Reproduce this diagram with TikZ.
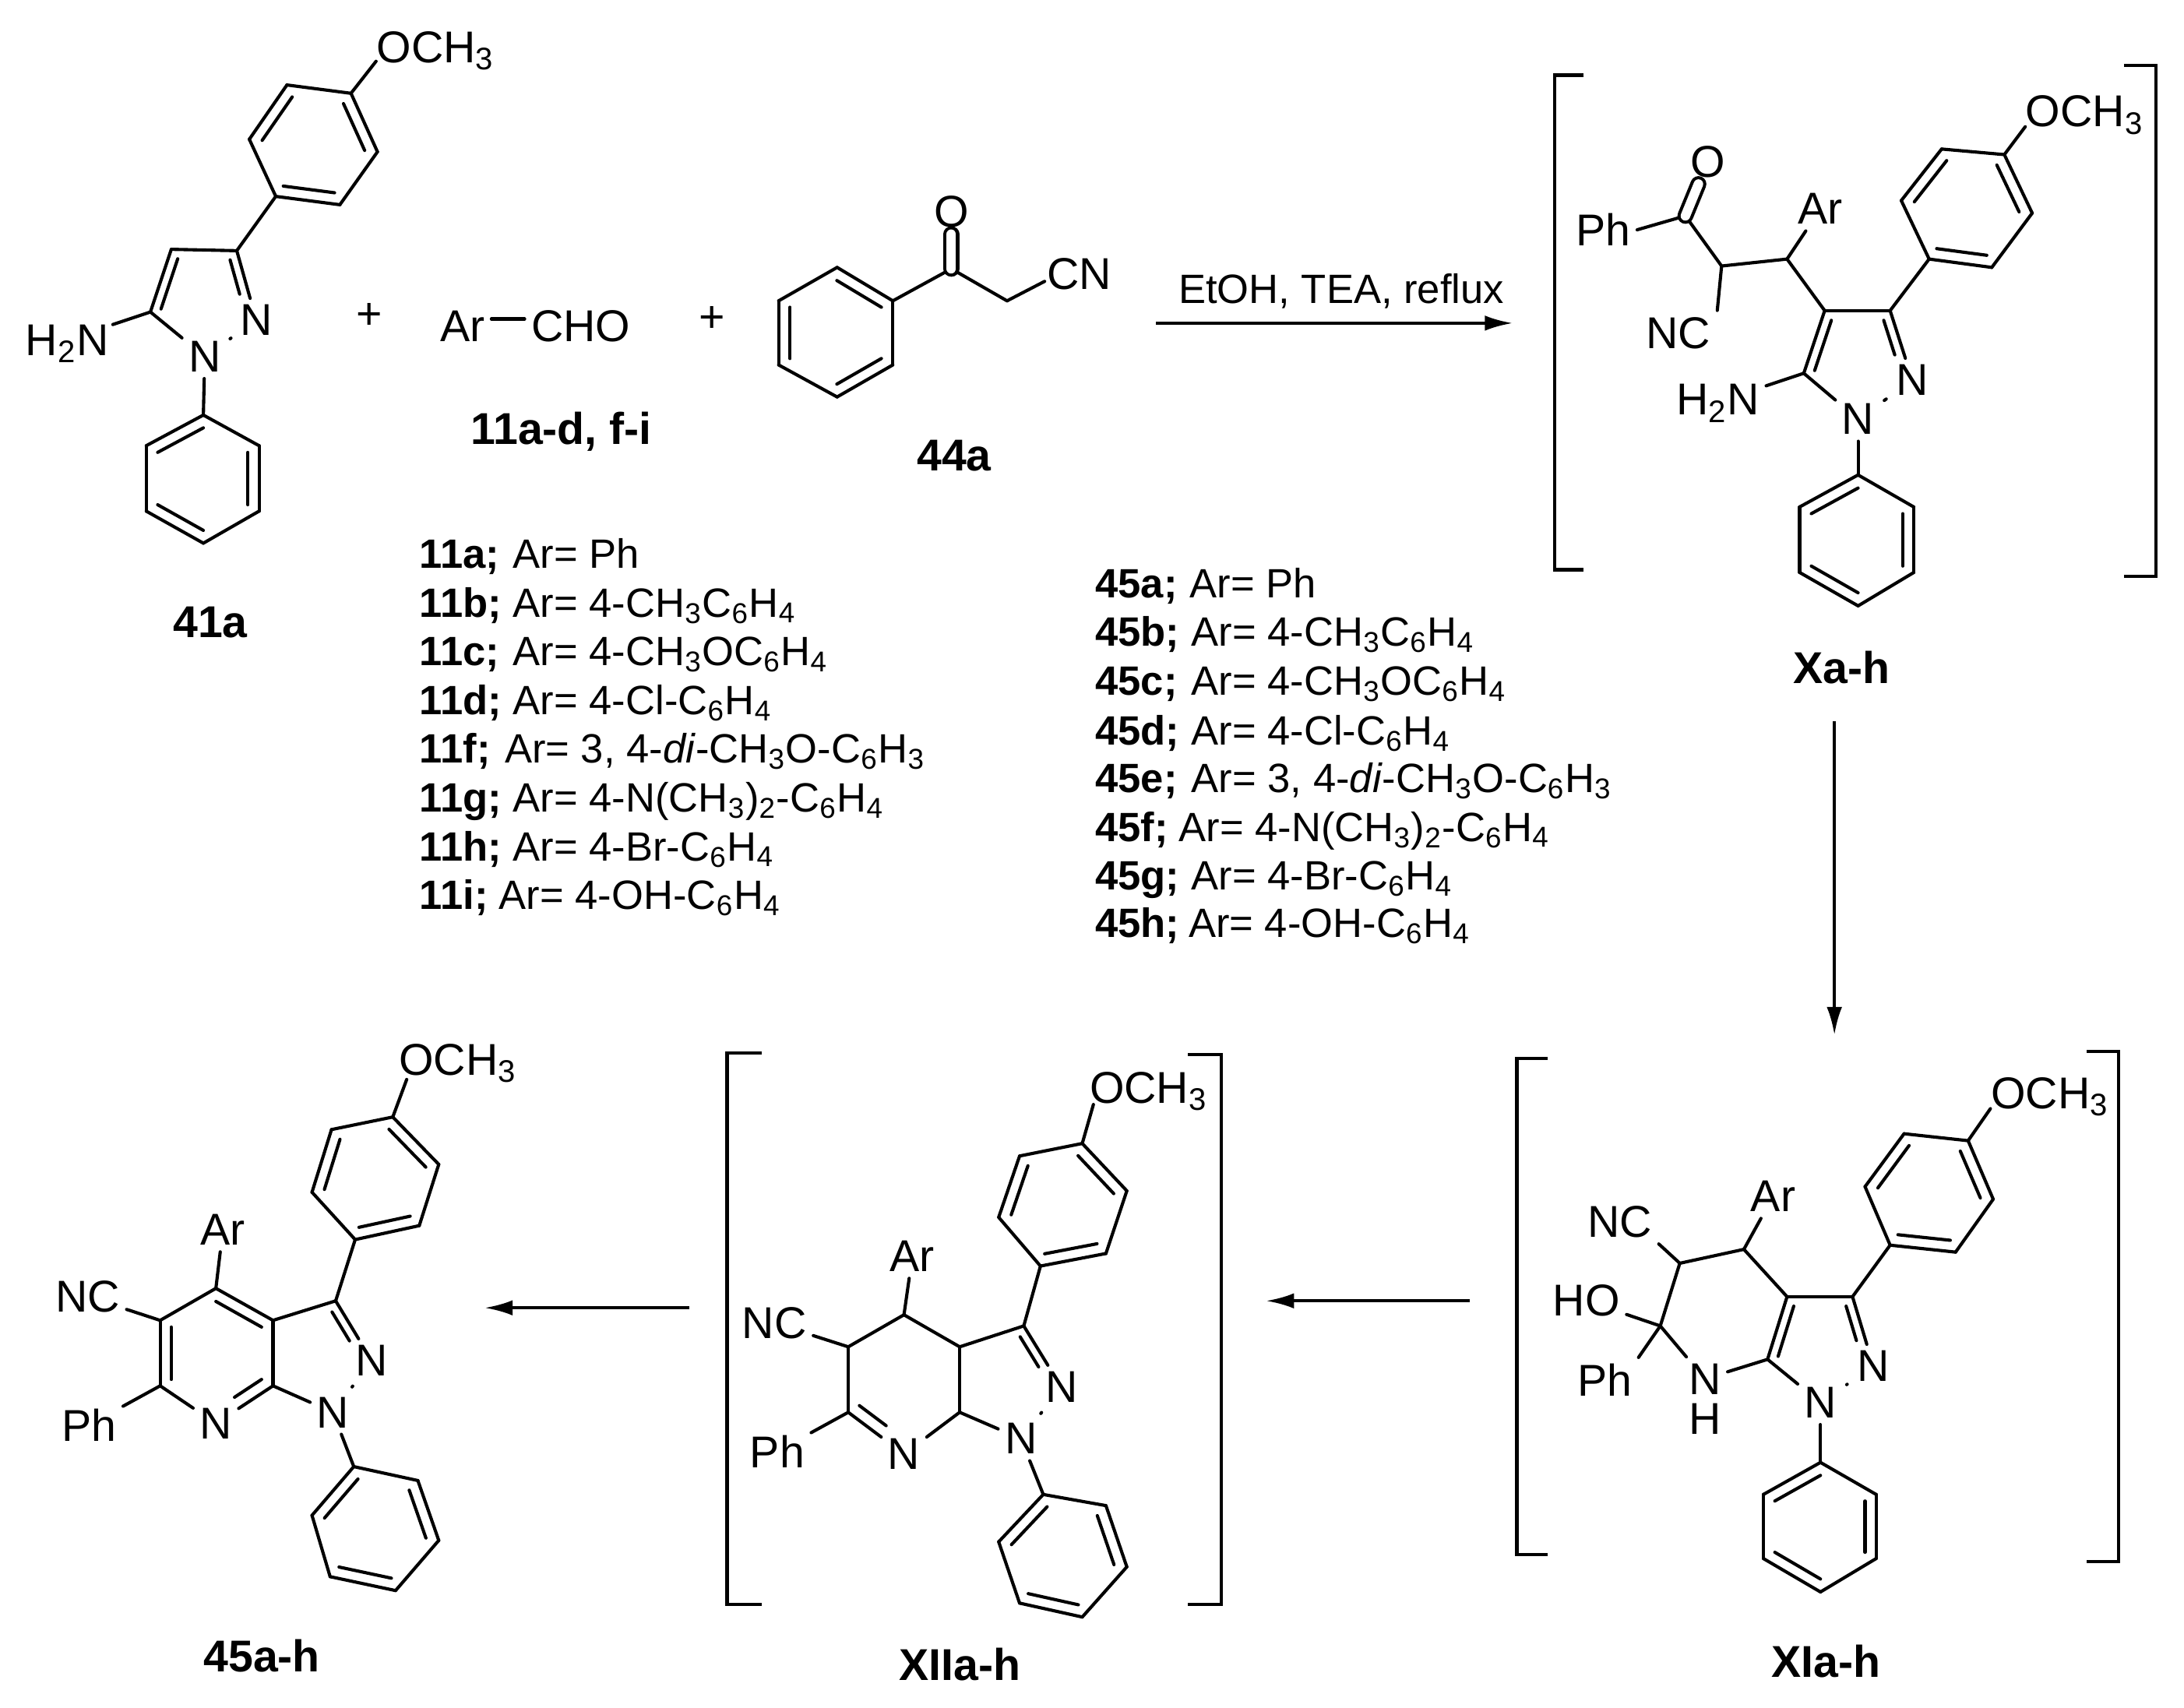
\documentclass[tikz,border=0pt]{standalone}
\usepackage{fontspec}
\setmainfont{Liberation Sans}
\usetikzlibrary{calc,arrows.meta}
\newcommand{\ind}[1]{\textsubscript{#1}}
\begin{document}
\begin{tikzpicture}[x=0.5pt,y=-0.5pt]
	\tikzstyle{atom}=[inner sep=2.2pt, font=\fontsize{16}{19}\selectfont]
	\tikzstyle{cmpd}=[inner sep=0pt, font=\fontsize{16}{19}\selectfont\bfseries]
	\tikzstyle{row}=[inner sep=0pt, anchor=base west, font=\fontsize{16}{19}\selectfont]
	\tikzstyle{rowtxt}=[inner sep=0pt, anchor=base west, font=\fontsize{14.7}{18}\selectfont]
	\tikzstyle{rowid}=[inner sep=0pt, anchor=base west, font=\fontsize{14.7}{18}\selectfont\bfseries]
	\tikzstyle{bond}=[line width=1.15pt, line cap=round]
	\tikzstyle{react}=[line width=1.1pt, -{Latex[length=10pt,width=5.5pt]}]
	\tikzstyle{brack}=[line width=1.2pt, line join=miter]
	\useasboundingbox (0,0) rectangle (1568,1226);
	%---------------------%
	% 41a
	\foreach \n/\x/\y in {p1/198/141,p2/244/147,p3/271/109,p4/252/67,p5/206/61,p6/179/100,
		q1/146/298,q2/105/320,q3/105/367,q4/146/390,q5/186/367,q6/186/320,
		c3/170/180,c3a/123/179,c7a/108/224,pz/146/213,oe/270/44,ne/81/233}
		\coordinate (a_\n) at (\x,\y);
	\node[atom] (a_n1) at (147,256) {N};
	\node[atom] (a_n2) at (184,230) {N};
	\node[row] (a_och) at (270,45) {OCH\ind{3}};
	\node[row] (a_nh) at (18,255) {H\ind{2}N};
	\node[cmpd] (a_name) at (151,447) {41a};
	% Ar-CHO, 11
	\node[atom] (plus_1) at (265,227) {+};
	\node[atom] (ar) at (332,234) {Ar};
	\node[atom] (cho) at (417,234) {CHO};
	\node[atom] (plus_2) at (511,229) {+};
	\node[cmpd] (ald_name) at (403,310) {11a-d, f-i};
	\draw[bond] ([yshift=2.5pt]ar.east) -- ([yshift=2.5pt]cho.west);
	% 44a
	\foreach \n/\x/\y in {p1/641/216,p2/601/192,p3/559/216,p4/559/262,p5/601/285,p6/641/262,
		co/683/193,ch/723/216,ne/750/202}
		\coordinate (b_\n) at (\x,\y);
	\node[atom] (b_o) at (683,152) {O};
	\node[atom] (b_cn) at (775,197) {CN};
	\node[cmpd] (b_name) at (685,327) {44a};
	\draw[bond] (b_p1) -- (b_co);
	\draw[bond] (b_co) -- (b_ch);
	\draw[bond] (b_ch) -- (b_ne);
	\draw[bond,double,double distance=3.4pt] (b_co) -- (b_o);
	%---------------------%
	% Xa-h
	\foreach \n/\x/\y in {p1/1385/186,p2/1430/192,p3/1459/153,p4/1439/111,p5/1394/107,p6/1365/144,
		q1/1334/341,q2/1292/364,q3/1292/411,q4/1334/435,q5/1374/411,q6/1374/364,
		c3/1357/223,c3a/1310/223,c7a/1295/268,pz/1334/258,oe/1454/91,ne/1268/277,
		co/1210/155,cc/1236/191,cb/1283/186}
		\coordinate (c_\n) at (\x,\y);
	\node[atom] (c_n1) at (1334,301) {N};
	\node[atom] (c_n2) at (1373,273) {N};
	\node[row] (c_och) at (1454,91) {OCH\ind{3}};
	\node[row] (c_nh) at (1203,298) {H\ind{2}N};
	\node[atom] (c_o) at (1226,116) {O};
	\node[atom] (c_ph) at (1151,165) {Ph};
	\node[atom] (c_ar) at (1307,150) {Ar};
	\node[atom] (c_nc) at (1205,239) {NC};
	\node[cmpd] (c_name) at (1322,479) {Xa-h};
	\draw[bond] (c_c3a) -- (c_cb);
	\draw[bond] (c_cb) -- (c_cc);
	\draw[bond] (c_cc) -- (c_co);
	\draw[bond] (c_co) -- (c_ph.east);
	\draw[bond] (c_cb) -- (c_ar);
	\draw[bond] (c_cc) -- (c_nc.north east);
	\draw[bond,double,double distance=3.4pt] (c_co) -- (c_o);
	%---------------------%
	% XIa-h
	\foreach \n/\x/\y in {p1/1357/894,p2/1404/899,p3/1431/861,p4/1413/819,p5/1367/814,p6/1339/852,
		q1/1307/1050,q2/1266/1073,q3/1266/1119,q4/1307/1143,q5/1347/1119,q6/1347/1073,
		c3/1330/931,c3a/1283/931,c7a/1269/976,pz/1307/965,oe/1429/796,
		c4/1252/897,c5/1206/907,c6/1192/952}
		\coordinate (d_\n) at (\x,\y);
	\node[atom] (d_n1) at (1307,1007) {N};
	\node[atom] (d_n2) at (1345,981) {N};
	\node[atom] (d_n7) at (1224,990) {N};
	\node[atom,inner sep=0pt] (d_h) at (1224,1019) {H};
	\node[row] (d_och) at (1429,796) {OCH\ind{3}};
	\node[atom] (d_ar) at (1273,859) {Ar};
	\node[atom] (d_nc) at (1163,877) {NC};
	\node[atom] (d_ho) at (1139,934) {HO};
	\node[atom] (d_ph) at (1152,991) {Ph};
	\node[cmpd] (d_name) at (1311,1193) {XIa-h};
	\draw[bond] (d_c3a) -- (d_c4);
	\draw[bond] (d_c4) -- (d_c5);
	\draw[bond] (d_c5) -- (d_c6);
	\draw[bond] (d_c6) -- (d_n7);
	\draw[bond] (d_n7) -- (d_c7a);
	\draw[bond] (d_c4) -- (d_ar);
	\draw[bond] (d_c5) -- (d_nc.south east);
	\draw[bond] (d_c6) -- (d_ho);
	\draw[bond] (d_c6) -- (d_ph.north east);
	%---------------------%
	% XIIa-h
	\foreach \n/\x/\y in {p1/747/909,p2/794/900,p3/809/855,p4/777/821,p5/732/830,p6/717/874,
		q1/749/1073,q2/717/1107,q3/732/1151,q4/777/1161,q5/809/1125,q6/794/1081,
		c3/735/952,c3a/689/967,c7a/689/1014,pz/722/991,oe/785/793,
		c4/649/944,c5/609/967,c6/609/1014,sc/649/990}
		\coordinate (e_\n) at (\x,\y);
	\node[atom] (e_n1) at (733,1033) {N};
	\node[atom] (e_n2) at (762,996) {N};
	\node[atom] (e_n7) at (649,1044) {N};
	\node[row] (e_och) at (782,792) {OCH\ind{3}};
	\node[atom] (e_ar) at (655,902) {Ar};
	\node[atom] (e_nc) at (556,950) {NC};
	\node[atom] (e_ph) at (558,1042) {Ph};
	\node[cmpd] (e_name) at (689,1195) {XIIa-h};
	\draw[bond] (e_c3a) -- (e_c4);
	\draw[bond] (e_c4) -- (e_c5);
	\draw[bond] (e_c5) -- (e_c6);
	\draw[bond] (e_c6) -- (e_n7);
	\draw[bond] (e_n7) -- (e_c7a);
	\draw[bond] (e_c4) -- (e_ar);
	\draw[bond] (e_c5) -- (e_nc);
	\draw[bond] (e_c6) -- (e_ph);
	\draw[bond,shorten >=8pt] ($(e_c6)!.2!(e_sc)$) -- ($(e_n7)!.2!(e_sc)$);
	%---------------------%
	% 45a-h
	\foreach \n/\x/\y in {p1/255/890,p2/301/880,p3/315/836,p4/282/802,p5/238/811,p6/224/856,
		q1/254/1053,q2/224/1088,q3/237/1132,q4/284/1142,q5/315/1106,q6/300/1063,
		c3/241/934,c3a/196/948,c7a/196/995,pz/228/974,oe/292/775,
		c4/155/925,c5/115/948,c6/115/995,sc/155/972}
		\coordinate (f_\n) at (\x,\y);
	\node[atom] (f_n1) at (239,1014) {N};
	\node[atom] (f_n2) at (267,977) {N};
	\node[atom] (f_n7) at (155,1022) {N};
	\node[row] (f_och) at (286,772) {OCH\ind{3}};
	\node[atom] (f_ar) at (160,883) {Ar};
	\node[atom] (f_nc) at (63,931) {NC};
	\node[atom] (f_ph) at (64,1023) {Ph};
	\node[cmpd] (f_name) at (188,1189) {45a-h};
	\draw[bond] (f_c3a) -- (f_c4);
	\draw[bond] (f_c4) -- (f_c5);
	\draw[bond] (f_c5) -- (f_c6);
	\draw[bond] (f_c6) -- (f_n7);
	\draw[bond] (f_n7) -- (f_c7a);
	\draw[bond] (f_c4) -- (f_ar);
	\draw[bond] (f_c5) -- (f_nc);
	\draw[bond] (f_c6) -- (f_ph);
	\draw[bond] ($(f_c3a)!.2!(f_sc)$) -- ($(f_c4)!.2!(f_sc)$);
	\draw[bond] ($(f_c5)!.2!(f_sc)$) -- ($(f_c6)!.2!(f_sc)$);
	\draw[bond,shorten >=8pt] ($(f_c7a)!.2!(f_sc)$) -- ($(f_n7)!.2!(f_sc)$);
	%---------------------%
	% All benzene rings
	\foreach \r in {a_p,a_q,b_p,c_p,c_q,d_p,d_q,e_p,e_q,f_p,f_q}{
		\coordinate (\r c) at ($(\r1)!.5!(\r4)$);
		\foreach \i/\j in {1/2,2/3,3/4,4/5,5/6,6/1}
			\draw[bond] (\r\i) -- (\r\j);
		\foreach \i/\j in {1/2,3/4,5/6}
			\draw[bond] ($(\r\i)!.2!(\r c)$) -- ($(\r\j)!.2!(\r c)$);
	}
	% All pyrazole rings
	\foreach \m in {a,c,d,e,f}{
		\draw[bond] (\m_c3) -- (\m_c3a);
		\draw[bond] (\m_c3a) -- (\m_c7a);
		\draw[bond] (\m_c7a) -- (\m_n1);
		\draw[bond,shorten <=1.5pt,shorten >=1.5pt] (\m_n1) -- (\m_n2);
		\draw[bond] (\m_n2) -- (\m_c3);
		\draw[bond] (\m_c3) -- (\m_p1);
		\draw[bond] (\m_n1) -- (\m_q1);
		\draw[bond] (\m_p4) -- (\m_oe);
		\draw[bond,shorten >=8pt] ($(\m_c3)!.2!(\m_pz)$) -- ($(\m_n2)!.2!(\m_pz)$);
	}
	\foreach \m in {a,c,d}
		\draw[bond] ($(\m_c3a)!.2!(\m_pz)$) -- ($(\m_c7a)!.2!(\m_pz)$);
	\draw[bond] (a_c7a) -- (a_ne);
	\draw[bond] (c_c7a) -- (c_ne);
	%---------------------%
	% List of 11
	\foreach \n/\y/\b/\x/\t in {1/408/11a;/368/{Ar= Ph},
		2/443/11b;/368/{Ar= 4-CH\ind{3}C\ind{6}H\ind{4}},
		3/478/11c;/368/{Ar= 4-CH\ind{3}OC\ind{6}H\ind{4}},
		4/513/11d;/368/{Ar= 4-Cl-C\ind{6}H\ind{4}},
		5/548/11f;/362/{Ar= 3, 4-\textit{di}-CH\ind{3}O-C\ind{6}H\ind{3}},
		6/583/11g;/368/{Ar= 4-N(CH\ind{3})\ind{2}-C\ind{6}H\ind{4}},
		7/618/11h;/368/{Ar= 4-Br-C\ind{6}H\ind{4}},
		8/653/11i;/358/{Ar= 4-OH-C\ind{6}H\ind{4}}}{
		\node[rowid] (lb_\n) at (301,\y) {\b};
		\node[rowtxt] (lt_\n) at (\x,\y) {\t};
	}
	% List of 45
	\foreach \n/\y/\b/\x/\t in {1/429/45a;/854/{Ar= Ph},
		2/464/45b;/855/{Ar= 4-CH\ind{3}C\ind{6}H\ind{4}},
		3/499/45c;/855/{Ar= 4-CH\ind{3}OC\ind{6}H\ind{4}},
		4/535/45d;/855/{Ar= 4-Cl-C\ind{6}H\ind{4}},
		5/569/45e;/855/{Ar= 3, 4-\textit{di}-CH\ind{3}O-C\ind{6}H\ind{3}},
		6/604/45f;/846/{Ar= 4-N(CH\ind{3})\ind{2}-C\ind{6}H\ind{4}},
		7/639/45g;/855/{Ar= 4-Br-C\ind{6}H\ind{4}},
		8/673/45h;/853/{Ar= 4-OH-C\ind{6}H\ind{4}}}{
		\node[rowid] (mb_\n) at (786,\y) {\b};
		\node[rowtxt] (mt_\n) at (\x,\y) {\t};
	}
	%---------------------%
	% Brackets
	\foreach \m/\l/\t/\b/\e in {c/1116/54/409/1137,d/1089/760/1116/1111,e/522/756/1152/547}
		\draw[brack] (\e,\t) -- (\l,\t) -- (\l,\b) -- (\e,\b);
	\foreach \m/\r/\t/\b/\e in {c/1548/47/414/1525,d/1521/755/1121/1498,e/877/757/1152/853}
		\draw[brack] (\e,\t) -- (\r,\t) -- (\r,\b) -- (\e,\b);
	%---------------------%
	% Arrows
	\coordinate (s_1) at (830,232);
	\coordinate (e_1) at (1086,232);
	\coordinate (s_2) at (1317,518);
	\coordinate (e_2) at (1317,743);
	\coordinate (s_3) at (1055,934);
	\coordinate (e_3) at (909,934);
	\coordinate (s_4) at (495,939);
	\coordinate (e_4) at (348,939);
	\foreach \i in {1,...,4}
		\draw[react] (s_\i) -- (e_\i);
	\node[atom,font=\fontsize{14.7}{18}\selectfont] (cond) at (963,209) {EtOH, TEA, reflux};
\end{tikzpicture}
\end{document}
